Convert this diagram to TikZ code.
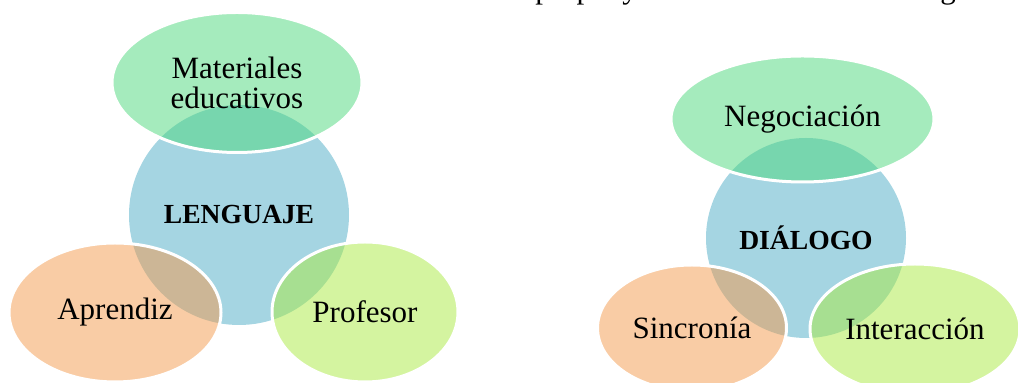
\documentclass[tikz,border=0pt]{standalone}
\usepackage{fontspec}
\setmainfont{Liberation Serif}
\usetikzlibrary{shapes.geometric}

\definecolor{hubblue}{RGB}{165,213,226}
\definecolor{topgreen}{RGB}{75,215,123}
\definecolor{leftorange}{RGB}{243,153,75}
\definecolor{rightlime}{RGB}{169,233,65}

\tikzset{
  hub/.style={circle, fill=hubblue, inner sep=0pt, minimum size=#1,
    font=\fontsize{13.8}{15}\selectfont\bfseries},
  petal/.style={ellipse, fill opacity=0.5, text opacity=1, draw=white,
    draw opacity=1, line width=1.5pt, inner sep=0pt, align=center,
    font=\fontsize{15.5}{15}\selectfont},
  bodytext/.style={anchor=base west, inner sep=0pt,
    font=\fontsize{15.5}{15}\selectfont},
}

\begin{document}
\begin{tikzpicture}[x=0.5pt,y=-0.5pt]
\clip (0,0) rectangle (1018,383);

% running text of the page above, only its descenders show
\node[bodytext] (runA) at (535,-1) {propia y};
\node[bodytext] (runB) at (940,-1) {g};

% --- left cluster ---
\node[hub=110pt] (leng) at (239,215) {LENGUAJE};
\node[petal, fill=topgreen, minimum width=125pt, minimum height=70pt]
  (mat) at (237,82.5) {Materiales\\educativos};
\node[petal, fill=leftorange, minimum width=106pt, minimum height=69.5pt]
  (apr) at (115,312.5) {Aprendiz};
\node[petal, fill=rightlime, minimum width=93pt, minimum height=70pt]
  (prof) at (365,312) {Profesor};

% --- right cluster ---
\node[hub=100pt] (dial) at (806,238) {DIÁLOGO};
\node[petal, fill=topgreen, minimum width=131.5pt, minimum height=63pt]
  (neg) at (802.5,119) {Negociación};
\node[petal, fill=leftorange, minimum width=94.5pt, minimum height=63pt]
  (sinc) at (692,328) {Sincronía};
\node[petal, fill=rightlime, minimum width=105pt, minimum height=65pt]
  (inter) at (915,329) {Interacción};
\end{tikzpicture}
\end{document}
